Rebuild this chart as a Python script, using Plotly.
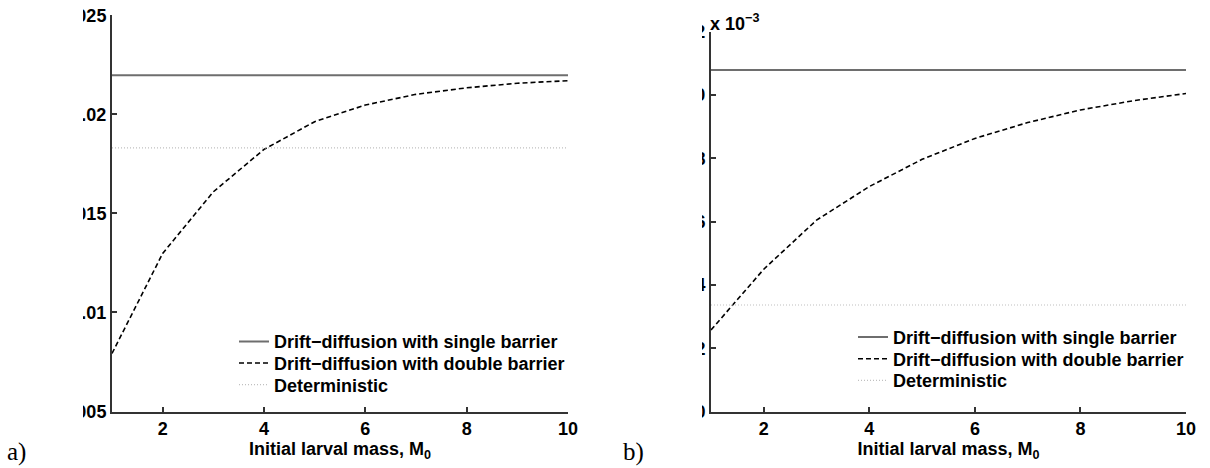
import plotly.graph_objects as go

# ---- data ----
mass = [1, 2, 3, 4, 5, 6, 7, 8, 9, 10]

# panel a)
a_single = [0.02198] * 10
a_double = [0.00793, 0.01298, 0.01609, 0.01823, 0.01963, 0.02047, 0.02101, 0.02134, 0.02157, 0.0217]
a_determ = [0.01831] * 10

# panel b)
b_single = [0.01079] * 10
b_double = [0.00258, 0.00450, 0.00605, 0.00711, 0.00797, 0.00863, 0.00913, 0.00953, 0.00982, 0.01005]
b_determ = [0.00337] * 10

a_yticks = [0.005, 0.01, 0.015, 0.02, 0.025]
a_yticktext = ["0.005", "0.01", "0.015", "0.02", "0.025"]
b_yticks = [0, 0.002, 0.004, 0.006, 0.008, 0.01, 0.012]
b_yticktext = ["0", "2", "4", "6", "8", "10", "12"]
xticks = [2, 4, 6, 8, 10]

names = ["Drift\u2212diffusion with single barrier",
         "Drift\u2212diffusion with double barrier",
         "Deterministic"]

W, H = 1210, 468
def px(x):
    return x / W
def py(y):
    return 1 - y / H

FONT = "Liberation Sans"

fig = go.Figure()

styles = [dict(color="#6e6e6e", width=2, dash="solid"),
          dict(color="#000000", width=1.6, dash="5px,3px"),
          dict(color="#c0c0c0", width=1.2, dash="1px,2px")]

# legend row positions (pixels)
a_leg_x, a_leg_rows = 234, [341.7, 363.3, 385.0]
b_leg_x, b_leg_rows = 853, [337.3, 359.0, 380.7]

for i, (ys, st, nm) in enumerate(zip([a_single, a_double, a_determ], styles, names)):
    fig.add_trace(go.Scatter(x=mass, y=ys, mode="lines", name="<b>" + nm + "</b>", line=st,
                             xaxis="x", yaxis="y", legend="legend" if i == 0 else f"legend{i+1}"))
for i, (ys, st, nm) in enumerate(zip([b_single, b_double, b_determ], styles, names)):
    fig.add_trace(go.Scatter(x=mass, y=ys, mode="lines", name="<b>" + nm + "</b>", line=st,
                             xaxis="x2", yaxis="y2", legend=f"legend{i+4}"))

tickfont = dict(family=FONT, size=18, color="black", weight="bold")
axis_common = dict(showline=True, linecolor="#333333", linewidth=2, ticks="inside",
                   ticklen=5, tickwidth=1.5, tickcolor="#333333", showgrid=False,
                   zeroline=False, mirror=False, tickfont=tickfont)

title_font = dict(family=FONT, size=18, color="black", weight="bold")
xtitle = dict(text="Initial larval mass, M<sub>0</sub>", font=title_font, standoff=3)

legends = {}
leg_font = dict(family=FONT, size=18, color="black")
for i, yy in enumerate(a_leg_rows + b_leg_rows):
    key = "legend" if i == 0 else f"legend{i+1}"
    lx = a_leg_x if i < 3 else b_leg_x
    legends[key] = dict(x=px(lx), y=py(yy), xanchor="left", yanchor="middle",
                        bgcolor="rgba(0,0,0,0)", borderwidth=0, font=leg_font,
                        itemwidth=30, tracegroupgap=0)

fig.update_layout(
    width=W, height=H,
    margin=dict(l=0, r=0, t=0, b=0),
    paper_bgcolor="white", plot_bgcolor="white",
    font=dict(family=FONT, size=17, color="black"),
    xaxis=dict(domain=[px(112), px(568)], range=[1, 10], tickvals=xticks, anchor="y",
               title=xtitle, automargin=False, **axis_common),
    yaxis=dict(domain=[py(411.5), py(15.3)], range=[0.005, 0.025], tickvals=a_yticks,
               ticktext=a_yticktext, anchor="x", automargin=False, **axis_common),
    xaxis2=dict(domain=[px(711), px(1186)], range=[1, 10], tickvals=xticks, anchor="y2",
                title=xtitle, automargin=False, **axis_common),
    yaxis2=dict(domain=[py(411.7), py(31.7)], range=[0, 0.012], tickvals=b_yticks,
                ticktext=b_yticktext, anchor="x2", automargin=False, **axis_common),
    showlegend=True,
    **legends,
)

# white masks emulating the cropped figure edges
fig.add_shape(type="rect", xref="paper", yref="paper", x0=0, x1=px(83), y0=py(430), y1=1,
              fillcolor="white", line=dict(width=0), layer="above")
fig.add_shape(type="rect", xref="paper", yref="paper", x0=px(590), x1=px(702), y0=py(430), y1=1,
              fillcolor="white", line=dict(width=0), layer="above")

fig.add_annotation(text="x 10<sup>\u22123</sup>", xref="paper", yref="paper",
                   x=px(708), y=py(22), xanchor="left", yanchor="middle", showarrow=False,
                   font=dict(family=FONT, size=18, color="black", weight="bold"))

fig.add_annotation(text="a)", xref="paper", yref="paper", x=px(5), y=py(468),
                   xanchor="left", yanchor="bottom", showarrow=False,
                   font=dict(family="Liberation Serif", size=25, color="black"))
fig.add_annotation(text="b)", xref="paper", yref="paper", x=px(621), y=py(468),
                   xanchor="left", yanchor="bottom", showarrow=False,
                   font=dict(family="Liberation Serif", size=25, color="black"))

fig.write_html("out.html")
